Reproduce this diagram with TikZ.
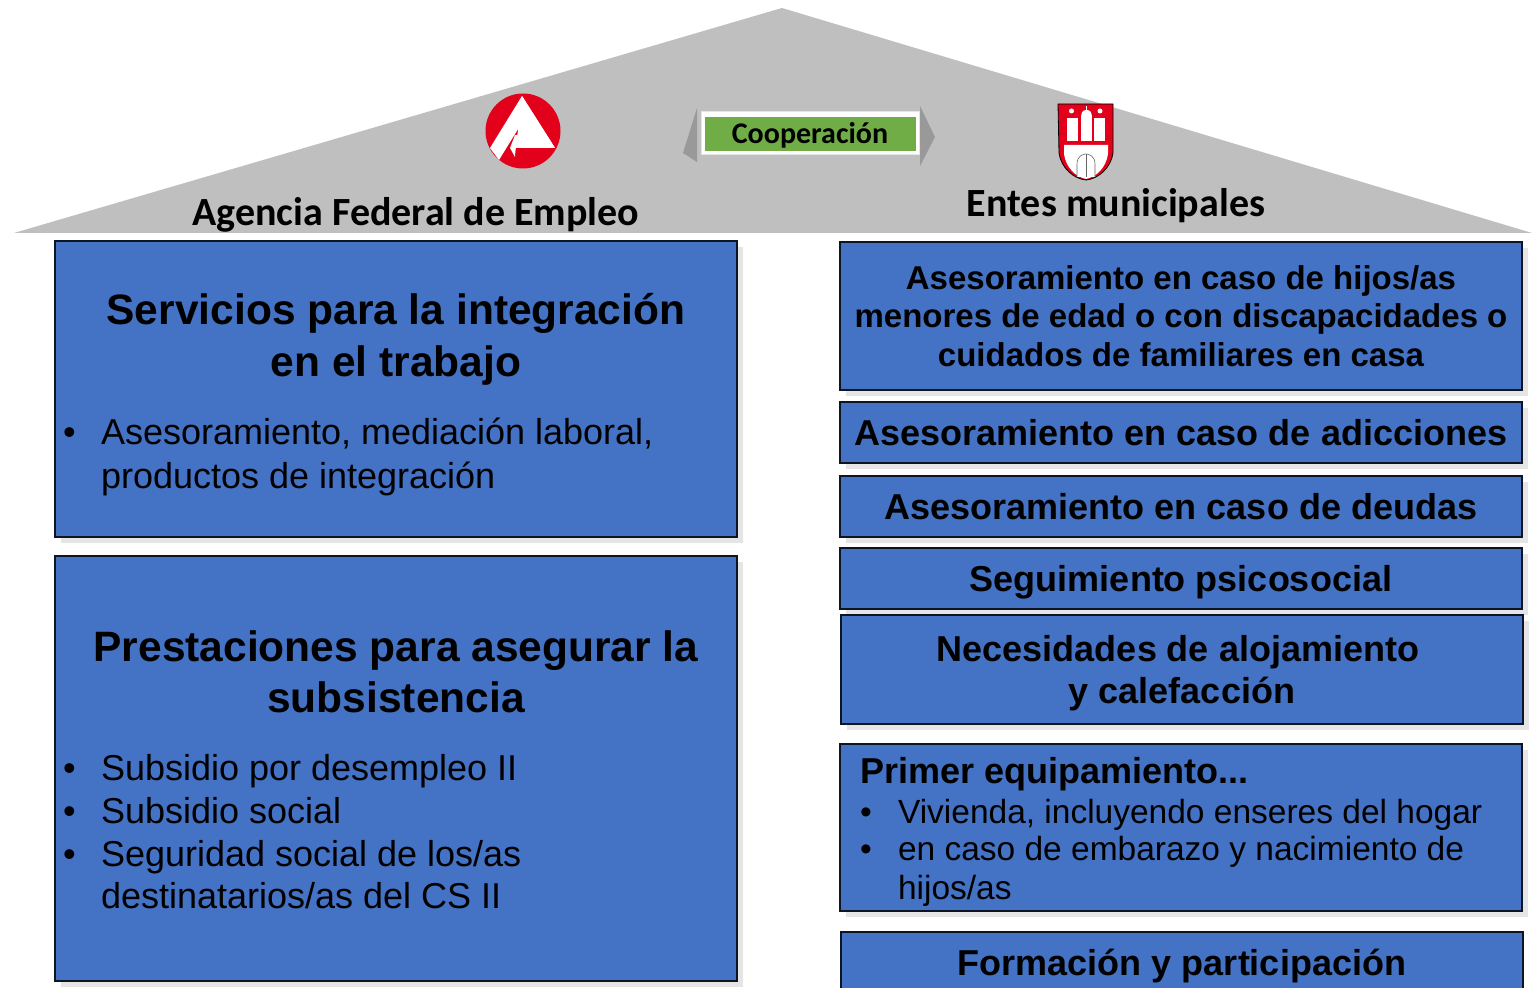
\documentclass[tikz,border=0pt]{standalone}
\usepackage{xcolor}
\usepackage{fontspec}
\setmainfont{Liberation Sans}
\newfontfamily\headfont{Carlito}
\definecolor{roofColor}{RGB}{191,191,191}
\definecolor{boxColor}{RGB}{68,114,196}
\definecolor{shadowColor}{RGB}{229,229,229}
\definecolor{edgeColor}{RGB}{13,20,36}
\definecolor{arrowColor}{RGB}{153,153,153}
\definecolor{greenColor}{RGB}{112,173,71}
\definecolor{redColor}{RGB}{226,0,26}
\tikzset{
  boxfill/.style={fill=boxColor,draw=edgeColor,line width=2pt,line join=miter},
  boxshade/.style={fill=shadowColor},
  bigtitle/.style={anchor=base,inner sep=0pt,outer sep=0pt,align=center,font=\fontsize{42.5}{52}\selectfont\bfseries},
  midtitle/.style={anchor=base,inner sep=0pt,outer sep=0pt,align=center,font=\fontsize{33}{38.5}\selectfont\bfseries},
  rowtitle/.style={anchor=base,inner sep=0pt,outer sep=0pt,align=center,font=\fontsize{36}{42}\selectfont\bfseries},
  bodytext/.style={anchor=base west,inner sep=0pt,outer sep=0pt,align=left,font=\fontsize{36}{43.5}\selectfont},
  smalltext/.style={anchor=base west,inner sep=0pt,outer sep=0pt,align=left,font=\fontsize{33.5}{38.5}\selectfont},
  hometitle/.style={anchor=base,inner sep=0pt,outer sep=0pt,font=\headfont\fontsize{40}{48}\selectfont\bfseries},
}
\begin{document}
\begin{tikzpicture}[x=1pt,y=1pt]
\path[use as bounding box,fill=white] (0,0) rectangle (1532,988);

% roof
\path[fill=roofColor] (782,980) -- (14,755) -- (1532,755) -- cycle;

% emblem left
\path[fill=redColor] (523,857) circle (37.5);
\path[fill=white] (522,892) -- (555,840) -- (510,840) -- (515,831) -- (515,833) -- (515,833) -- (515,833) -- (515,833) -- cycle;
\path[fill=white] (522,892) -- (555,840) -- (510,840) -- (515,853) -- (532,853) -- (523,867) -- (499,828) -- (490,840) -- cycle;

% emblem right
\path[fill=redColor,draw=black,line width=0.8pt] (1058,884) -- (1113,884) -- (1113,835) .. controls (1111,820) and (1098,809) .. (1086,808) .. controls (1074,809) and (1061,820) .. (1059,835) -- cycle;
\path[fill=white] (1064,843) -- (1108,843) -- (1108,834) .. controls (1106,820) and (1096,811) .. (1086,809) .. controls (1076,811) and (1066,820) .. (1064,834) -- cycle;
\path[fill=white] (1067,847) rectangle (1078,870);
\path[fill=white] (1081,847) rectangle (1092,870);
\path[fill=white] (1094,847) rectangle (1105,870);
\path[fill=white] (1081,870) .. controls (1081,876) and (1083,878) .. (1086.5,878) .. controls (1090,878) and (1092,876) .. (1092,870) -- cycle;
\path[fill=white] (1071.5,877) circle (2.5);
\path[fill=white] (1100,877) circle (2.5);
\path[fill=white] (1086,877.5) rectangle (1087,882);
\path[draw=black!60,line width=0.6pt,fill=white] (1077,811) -- (1077,824) .. controls (1077,832) and (1083,834) .. (1086,834) .. controls (1089,834) and (1095,832) .. (1095,824) -- (1095,811);
\path[draw=black!60,line width=0.6pt] (1086,811) -- (1086,834);

% cooperation
\path[fill=arrowColor] (683,835) -- (697,880) -- (697,826) -- cycle;
\path[fill=arrowColor] (935,851) -- (920,882) -- (920,822) -- cycle;
\path[fill=white,draw=shadowColor,line width=1pt] (701,833) rectangle (919,876);
\path[fill=greenColor] (705,837) rectangle (916,871);
\node[anchor=base,inner sep=0pt,outer sep=0pt,font=\headfont\fontsize{30}{36}\selectfont\bfseries] (cooperation) at (810,844) {Cooperación};

% titles
\node[hometitle] (agency) at (416,762) {Agencia Federal de Empleo};
\node[hometitle] (municipal) at (1116,771) {Entes municipales};

% left boxes
\path[boxshade] (61,445) rectangle (743,741);
\path[boxfill] (55,451) rectangle (737,747);
\path[boxshade] (61,1) rectangle (743,426);
\path[boxfill] (55,7) rectangle (737,432);

% right boxes
\path[boxshade] (846,592) rectangle (1528,740);
\path[boxfill] (840,598) rectangle (1522,746);
\path[boxshade] (846,519) rectangle (1528,580);
\path[boxfill] (840,525) rectangle (1522,586);
\path[boxshade] (846,445) rectangle (1528,506);
\path[boxfill] (840,451) rectangle (1522,512);
\path[boxshade] (846,373) rectangle (1528,434);
\path[boxfill] (840,379) rectangle (1522,440);
\path[boxshade] (847,258) rectangle (1529,367);
\path[boxfill] (841,264) rectangle (1523,373);
\path[boxshade] (846,71) rectangle (1528,238);
\path[boxfill] (840,77) rectangle (1522,244);
\path[boxfill] (841,-10) rectangle (1523,56);

% left texts
\node[bigtitle,anchor=base] (services) at (396,663) {Servicios para la integración};
\node[bigtitle] (services2) at (396,611) {en el trabajo};
\node[bodytext] (bulletA) at (63,543) {•};
\node[bodytext] (advice) at (101,543) {Asesoramiento, mediación laboral,};
\node[bodytext] (advice2) at (101,499) {productos de integración};
\node[bigtitle] (benefits) at (396,326) {Prestaciones para asegurar la};
\node[bigtitle] (benefits2) at (396,275) {subsistencia};
\node[bodytext] (bulletB) at (63,207) {•};
\node[bodytext] (subsidyA) at (101,207) {Subsidio por desempleo II};
\node[bodytext] (bulletC) at (63,164) {•};
\node[bodytext] (subsidyB) at (101,164) {Subsidio social};
\node[bodytext] (bulletD) at (63,121) {•};
\node[bodytext] (security) at (101,121) {Seguridad social de los/as};
\node[bodytext] (security2) at (101,79) {destinatarios/as del CS II};

% right texts
\node[midtitle] (minors) at (1181,698) {Asesoramiento en caso de hijos/as};
\node[midtitle] (minors2) at (1181,660) {menores de edad o con discapacidades o};
\node[midtitle] (minors3) at (1181,621) {cuidados de familiares en casa};
\node[rowtitle] (addiction) at (1181,542) {Asesoramiento en caso de adicciones};
\node[rowtitle] (debts) at (1181,468) {Asesoramiento en caso de deudas};
\node[rowtitle] (psycho) at (1181,396) {Seguimiento psicosocial};
\node[rowtitle] (housing) at (1178,326) {Necesidades de alojamiento};
\node[rowtitle] (housing2) at (1182,284) {y calefacción};
\node[rowtitle,anchor=base west] (first) at (860,204) {Primer equipamiento...};
\node[smalltext] (bulletE) at (860,164) {•};
\node[smalltext] (home) at (898,164) {Vivienda, incluyendo enseres del hogar};
\node[smalltext] (bulletF) at (860,127) {•};
\node[smalltext] (birth) at (898,127) {en caso de embarazo y nacimiento de};
\node[smalltext] (birth2) at (898,88) {hijos/as};
\node[rowtitle] (training) at (1182,12) {Formación y participación};
\end{tikzpicture}
\end{document}
